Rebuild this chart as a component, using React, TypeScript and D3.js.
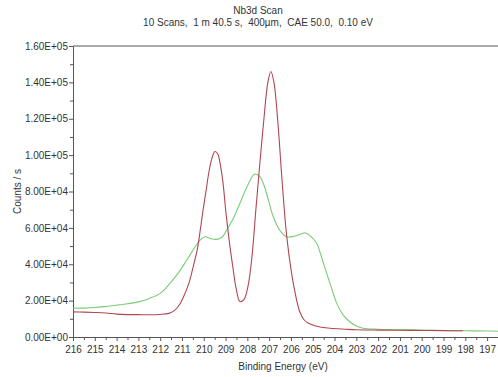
import React, { useRef, useEffect } from 'react';
import * as d3 from 'd3';

// Nb3d spectrum, two scans (binding energy in eV, counts/s)
const redEnergy = [216, 215.5, 215, 214.5, 214, 213.5, 213, 212.5, 212, 211.6, 211.35, 211.1, 210.86, 210.67, 210.54, 210.3, 210.17, 210.03, 209.9, 209.76, 209.62, 209.49, 209.35, 209.26, 209.12, 208.98, 208.8, 208.66, 208.52, 208.34, 208.16, 207.97, 207.79, 207.61, 207.43, 207.24, 207.06, 206.92, 206.78, 206.6, 206.42, 206.2, 205.97, 205.77, 205.6, 205.4, 205.22, 204.9, 204.6, 204.2, 203.5, 203, 202, 201, 200, 199, 198.1];
const redCounts = [13800, 13700, 13500, 13200, 12600, 12300, 12300, 12200, 12400, 13000, 14500, 18000, 24000, 30000, 36000, 48000, 58000, 70000, 80000, 91000, 98500, 102000, 100500, 96000, 85000, 68000, 50000, 38000, 27000, 19500, 20500, 28000, 44000, 70000, 95000, 120000, 140000, 146000, 140000, 118000, 88000, 56000, 35000, 22000, 14000, 9500, 7700, 6200, 5400, 4800, 4300, 4000, 3800, 3700, 3600, 3500, 3400];

const greenEnergy = [216, 215.5, 215, 214.5, 214, 213.5, 213, 212.5, 212, 211.55, 211.15, 210.78, 210.45, 210.17, 209.94, 209.67, 209.4, 209.15, 208.95, 208.65, 208.34, 208, 207.68, 207.45, 207.27, 207.05, 206.81, 206.5, 206.2, 205.82, 205.5, 205.36, 205.1, 204.82, 204.6, 204.36, 204.1, 203.9, 203.6, 203.3, 203, 202.7, 202, 201.5, 200, 199, 198, 197, 196.5];
const greenCounts = [15800, 15900, 16200, 16800, 17500, 18300, 19300, 21200, 24000, 29500, 35500, 42300, 48500, 53300, 55100, 54000, 53700, 55000, 58800, 65000, 73500, 83000, 89500, 88500, 84500, 76000, 66100, 58500, 55100, 55500, 56800, 57300, 55500, 51500, 44000, 35000, 25500, 18500, 12000, 8400, 6000, 4800, 4300, 4100, 3800, 3600, 3400, 3300, 3200];

const yTicks = [0, 20000, 40000, 60000, 80000, 100000, 120000, 140000, 160000];
const xTicks = d3.range(216, 196, -1);

function App() {
  const ref = useRef<SVGSVGElement>(null);

  useEffect(() => {
    const W = 498, H = 377;
    const margin = { top: 46, right: 0, bottom: 40, left: 73 };
    const width = W - margin.left - margin.right;
    const height = H - margin.top - margin.bottom;

    const svg = d3.select(ref.current);
    svg.selectAll('*').remove();
    const g = svg.append('g')
      .attr('transform', 'translate(' + margin.left + ',' + margin.top + ')');

    const x = d3.scaleLinear().domain([216, 196.5]).range([0, width]);
    const y = d3.scaleLinear().domain([0, 160000]).range([height, 0]);

    const fmt = (v: number) => {
      const s = v.toExponential(2).toUpperCase();
      const m = s.match(/E([+-])(\d+)/);
      return s.replace(/E[+-]\d+/, 'E' + m![1] + m![2].padStart(2, '0'));
    };

    // top frame line
    g.append('line')
      .attr('x1', 0).attr('x2', width).attr('y1', 0).attr('y2', 0)
      .attr('stroke', '#555').attr('stroke-width', 1);

    // minor ticks
    const yMinor = d3.axisLeft(y).tickValues(d3.range(10000, 160000, 20000)).tickSize(3).tickFormat(() => '');
    g.append('g').call(yMinor).call(a => a.select('.domain').remove());
    const xMinor = d3.axisBottom(x).tickValues(d3.range(215.5, 196.5, -1)).tickSize(3).tickFormat(() => '');
    g.append('g').attr('transform', 'translate(0,' + height + ')').call(xMinor).call(a => a.select('.domain').remove());

    const yAxis = d3.axisLeft(y).tickValues(yTicks).tickSize(4).tickSizeOuter(0).tickPadding(1).tickFormat(d => fmt(+d));
    g.append('g').call(yAxis);

    const xAxis = d3.axisBottom(x).tickValues(xTicks).tickSize(4).tickSizeOuter(0).tickPadding(5).tickFormat(d3.format('d'));
    g.append('g').attr('transform', 'translate(0,' + height + ')').call(xAxis);

    g.selectAll('.tick line').attr('stroke', '#555');
    g.selectAll('.domain').attr('stroke', '#555');
    g.selectAll('.tick text')
      .attr('fill', '#333')
      .style('font-family', 'Liberation Sans, Arial, sans-serif')
      .style('font-size', '10px');

    const line = d3.line<[number, number]>()
      .x(d => x(d[0]))
      .y(d => y(d[1]))
      .curve(d3.curveCatmullRom.alpha(0.5));

    g.append('path')
      .datum(d3.zip(greenEnergy, greenCounts) as [number, number][])
      .attr('fill', 'none')
      .attr('stroke', '#78cc78')
      .attr('stroke-width', 1.1)
      .attr('d', line);

    g.append('path')
      .datum(d3.zip(redEnergy, redCounts) as [number, number][])
      .attr('fill', 'none')
      .attr('stroke', '#b04750')
      .attr('stroke-width', 1.1)
      .attr('d', line);

    const font = 'Liberation Sans, Arial, sans-serif';

    svg.append('text')
      .attr('x', 258).attr('y', 14)
      .attr('text-anchor', 'middle')
      .style('font-family', font).style('font-size', '10px').attr('fill', '#333')
      .text('Nb3d Scan');

    svg.append('text')
      .attr('x', 258).attr('y', 26)
      .attr('text-anchor', 'middle')
      .style('font-family', font).style('font-size', '10px').style('white-space', 'pre').attr('fill', '#333')
      .text('10 Scans,  1 m 40.5 s,  400µm,  CAE 50.0,  0.10 eV');

    svg.append('text')
      .attr('transform', 'translate(21,' + (margin.top + height / 2) + ') rotate(-90)')
      .attr('text-anchor', 'middle')
      .style('font-family', font).style('font-size', '10px').attr('fill', '#333')
      .text('Counts / s');

    svg.append('text')
      .attr('x', 283).attr('y', 370)
      .attr('text-anchor', 'middle')
      .style('font-family', font).style('font-size', '10px').attr('fill', '#333')
      .text('Binding Energy (eV)');
  }, []);

  return (
    <svg ref={ref} width={498} height={377}
      style={{ position: 'absolute', left: 0, top: 0, background: '#fff' }} />
  );
}

export default App;
